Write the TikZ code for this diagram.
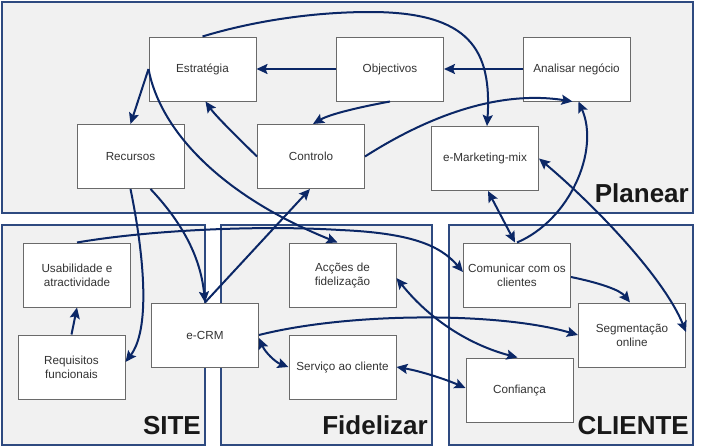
\documentclass[tikz,border=0pt]{standalone}
\usepackage{fontspec}
\setmainfont{Liberation Sans}
\usetikzlibrary{arrows.meta}
\definecolor{regfill}{HTML}{F1F1F1}
\definecolor{regline}{HTML}{2E4A80}
\definecolor{boxline}{HTML}{6A6A6A}
\definecolor{arr}{HTML}{0B2766}
\definecolor{boxtext}{HTML}{333333}
\tikzset{
  region/.style={draw=regline, fill=regfill, line width=2pt},
  boxnode/.style={draw=boxline, fill=white, line width=1pt, minimum width=107pt, minimum height=64pt, inner sep=1pt, align=center, text=boxtext, font=\fontsize{11.7}{14}\selectfont},
  reglabel/.style={anchor=base east, inner sep=0pt, font=\fontsize{26}{28}\selectfont\bfseries, text=black!90},
  conn/.style={draw=arr, line width=2pt, -{Stealth[length=11pt,width=10pt,inset=2pt]}},
  conn2/.style={draw=arr, line width=2pt, {Stealth[length=11pt,width=10pt,inset=2pt]}-{Stealth[length=11pt,width=10pt,inset=2pt]}}
}
\begin{document}
\begin{tikzpicture}[x=1pt,y=-1pt]
\useasboundingbox (0,0) rectangle (705,447);
% regions
\draw[region] (2,1.5) rectangle (693,213);
\draw[region] (2,225) rectangle (205,445);
\draw[region] (221,225) rectangle (432,445);
\draw[region] (449,225) rectangle (693,445);
\node[reglabel] (lplan) at (689,202) {Planear};
\node[reglabel] (lsite) at (201,434) {SITE};
\node[reglabel] (lfid) at (428,434) {Fidelizar};
\node[reglabel] (lcli) at (689,434) {CLIENTE};
% boxes
\node[boxnode] (estr) at (202.5,69) {Estratégia};
\node[boxnode] (obj) at (390,69) {Objectivos};
\node[boxnode] (anal) at (576.5,69) {Analisar negócio};
\node[boxnode] (rec) at (130.5,156.5) {Recursos};
\node[boxnode] (ctrl) at (311,156.5) {Controlo};
\node[boxnode] (emm) at (485,158.5) {e-Marketing-mix};
\node[boxnode] (usab) at (77,275) {Usabilidade e\\atractividade};
\node[boxnode] (req) at (71.5,367) {Requisitos\\funcionais};
\node[boxnode] (ecrm) at (205,335) {e-CRM};
\node[boxnode] (acc) at (342.5,275) {Acções de\\fidelização};
\node[boxnode] (serv) at (342.5,367) {Serviço ao cliente};
\node[boxnode] (com) at (517,275) {Comunicar com os\\clientes};
\node[boxnode] (seg) at (632,335) {Segmentação\\online};
\node[boxnode] (conf) at (519.5,390) {Confiança};
% connectors
\draw[conn] (obj.west) -- (estr.east);
\draw[conn] (anal.west) -- (obj.east);
\draw[conn] (estr.north) .. controls (250,22) and (310,12) .. (370,12) .. controls (470,12) and (492,50) .. ([xshift=2pt]emm.north);
\draw[conn] (estr.west) -- (rec.north);
\draw[conn] (estr.west) .. controls (160,130) and (220,195) .. ([xshift=-5pt]acc.north);
\draw[conn] (ctrl.west) .. controls (232,132) and (215,115) .. ([xshift=3pt]estr.south);
\draw[conn] (obj.south) .. controls (360,107) and (330,114) .. ([xshift=2pt]ctrl.north);
\draw[conn] (ctrl.east) .. controls (430,115) and (500,90) .. ([xshift=-4pt]anal.south);
\draw[conn] (rec.south) .. controls (145,260) and (150,330) .. ([yshift=5pt]req.east);
\draw[conn] ([xshift=20pt]rec.south) .. controls (175,215) and (200,250) .. (ecrm.north);
\draw[conn] (ecrm.north) -- ([xshift=-1pt]ctrl.south);
\draw[conn] (usab.north) .. controls (150,230) and (260,225) .. (340,230) .. controls (410,233) and (440,245) .. ([yshift=3pt]com.west);
\draw[conn] (req.north) -- (usab.south);
\draw[conn] (ecrm.east) .. controls (350,312) and (500,312) .. (seg.west);
\draw[conn2] ([yshift=-3pt]ecrm.east) .. controls (265,352) and (275,362) .. (serv.west);
\draw[conn2] (serv.east) .. controls (420,371) and (445,379) .. ([yshift=2pt]conf.west);
\draw[conn2] ([yshift=-3pt]acc.east) .. controls (430,320) and (470,345) .. ([xshift=-2pt]conf.north);
\draw[conn2] ([xshift=3pt]emm.south) -- ([xshift=-2pt]com.north);
\draw[conn] (com.north) .. controls (570,220) and (600,150) .. ([xshift=2pt]anal.south);
\draw[conn2] (emm.east) .. controls (600,210) and (665,280) .. ([yshift=3pt]seg.east);
\draw[conn] ([yshift=-2pt]com.east) .. controls (600,283) and (620,290) .. ([xshift=-2pt]seg.north);
\end{tikzpicture}
\end{document}
